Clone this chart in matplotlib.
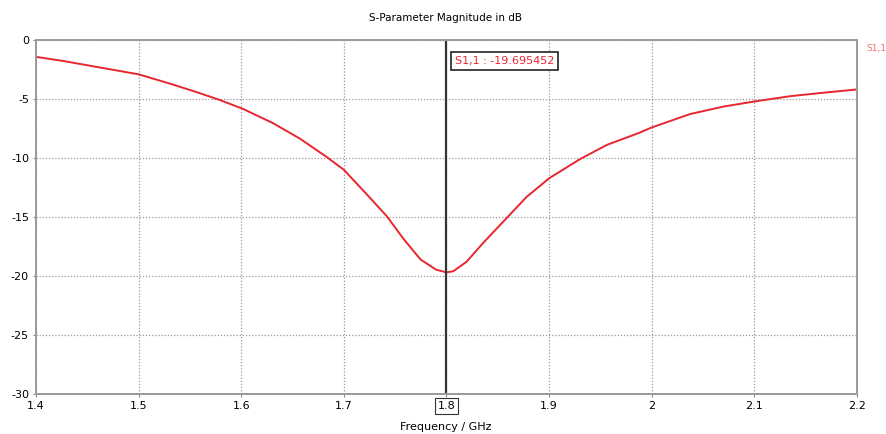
import matplotlib.pyplot as plt

plt.rcParams['axes.unicode_minus'] = False

# S11 magnitude
freq_ghz = [1.400, 1.426, 1.459, 1.500, 1.531, 1.557, 1.579, 1.602, 1.631, 1.657,
            1.683, 1.700, 1.7225, 1.742, 1.7585, 1.7747, 1.790, 1.800, 1.8065,
            1.8195, 1.8357, 1.8585, 1.878, 1.900, 1.930, 1.956, 1.9886, 2.000,
            2.0376, 2.070, 2.100, 2.135, 2.167, 2.200]
s11_db = [-1.43, -1.77, -2.28, -2.91, -3.71, -4.43, -5.08, -5.85, -7.05, -8.35,
          -9.9, -11.0, -13.1, -14.95, -16.9, -18.6, -19.47, -19.695, -19.6,
          -18.8, -17.2, -15.1, -13.3, -11.72, -10.1, -8.9, -7.84, -7.41,
          -6.27, -5.64, -5.21, -4.76, -4.47, -4.19]

marker_f = 1.8
marker_val = -19.695452
x_ticks = [1.4, 1.5, 1.6, 1.7, 1.8, 1.9, 2.0, 2.1, 2.2]
x_labels = ['1.4', '1.5', '1.6', '1.7', '1.8', '1.9', '2', '2.1', '2.2']
y_ticks = [0, -5, -10, -15, -20, -25, -30]

red = '#e8262e'

fig = plt.figure(figsize=(8.87, 4.34), dpi=100)
ax = fig.add_axes([36/887, 1 - 394/434, (857-36)/887, (394-40)/434])

ax.plot(freq_ghz, s11_db, color=red, lw=1.4)
ax.axvline(marker_f, color='#333333', lw=1.6)

ax.set_xlim(1.4, 2.2)
ax.set_ylim(-30, 0)
ax.set_xticks(x_ticks)
ax.set_xticklabels(x_labels)
ax.set_yticks(y_ticks)
ax.grid(True, color='#999999', ls=(0, (1, 1.5)), lw=0.9)
ax.tick_params(labelsize=8, length=2, color='#888888', pad=3)
for s in ax.spines.values():
    s.set_color('#9a9a9a')
    s.set_linewidth(1.4)

# box round the marker tick label
ax.get_xticklabels()[4].set_bbox(dict(boxstyle='square,pad=0.25', fc='white', ec='#333333', lw=0.8))

ax.text(marker_f + 0.008, -1.8, 'S1,1 : %.6f' % marker_val, color=red, fontsize=8,
        va='center', ha='left',
        bbox=dict(boxstyle='square,pad=0.35', fc='white', ec='#222222', lw=1.2))

fig.text(866/887, 1 - 48/434, 'S1,1', color='#f07070', fontsize=6.5, va='center', ha='left')
fig.text(446/887, 1 - 18/434, 'S-Parameter Magnitude in dB', fontsize=7.5, ha='center', va='center')
fig.text(446/887, 1 - 427/434, 'Frequency / GHz', fontsize=8, ha='center', va='center')

fig.savefig('out.png', dpi=100)
